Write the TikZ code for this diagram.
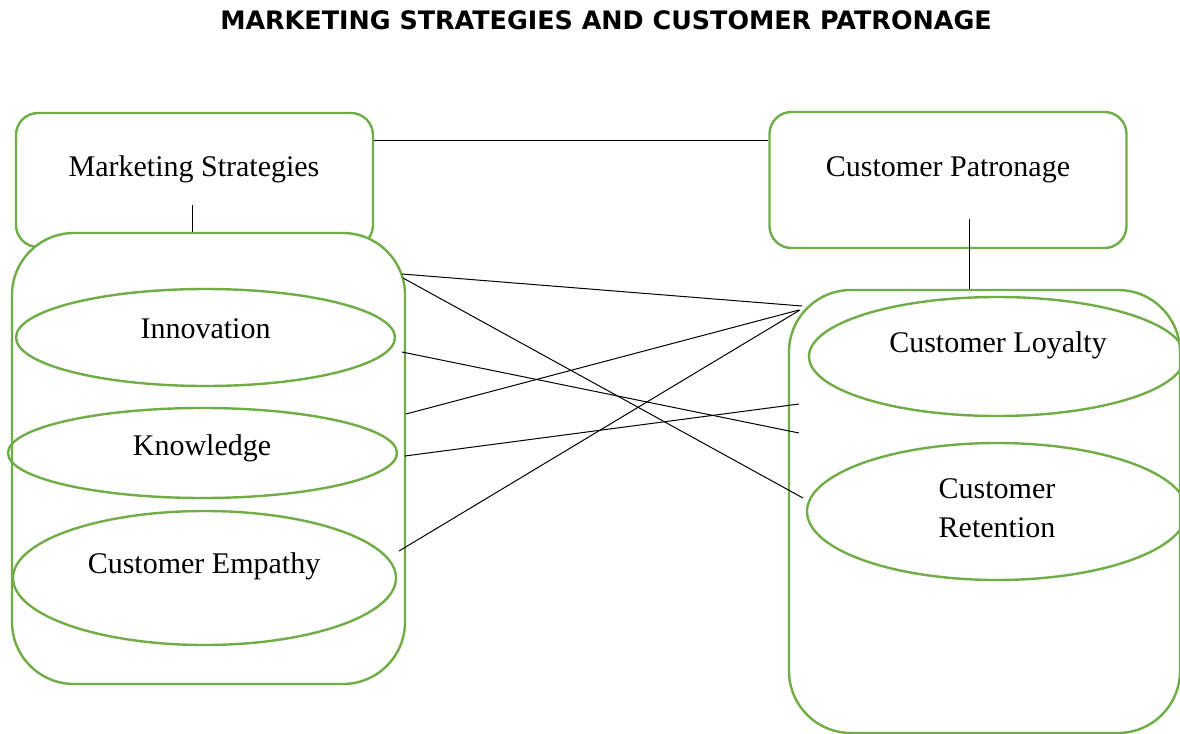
\documentclass[tikz,border=0pt]{standalone}
\usepackage{fontspec}
\setmainfont{Liberation Serif}
\newfontfamily\headfont{DejaVu Sans}
\usetikzlibrary{shapes.geometric}
\definecolor{leafgreen}{RGB}{112,173,71}

\begin{document}
\begin{tikzpicture}[x=0.5pt, y=-0.5pt,
    box/.style={draw=leafgreen, line width=1.2pt, rounded corners=11pt, fill=white, inner sep=0pt, minimum width=178.5pt},
    group/.style={draw=leafgreen, line width=1.2pt, rounded corners=31pt, fill=white, inner sep=0pt},
    oval/.style={ellipse, draw=leafgreen, line width=1.2pt, inner sep=0pt},
    lbl/.style={font=\fontsize{15}{19.5}\selectfont, align=center, inner sep=0pt, anchor=base},
    link/.style={black, line width=0.5pt}]
    \useasboundingbox (0,0) rectangle (1180,734);

    % Title
    \node[font=\headfont\bfseries\fontsize{12.7}{16}\selectfont] (title) at (606,20)
        {MARKETING STRATEGIES AND CUSTOMER PATRONAGE};

    % Top boxes
    \node[box, minimum height=67pt] (ms) at (194.5,180) {};
    \node[box, minimum height=68pt] (cp) at (948,180) {};
    \node[lbl] (mstext) at (194,176) {Marketing Strategies};
    \node[lbl] (cptext) at (948,176) {Customer Patronage};

    % Containers for the variables
    \node[group, minimum width=196.5pt, minimum height=225.5pt] (leftgrp) at (208.5,458.5) {};
    \node[group, minimum width=195.5pt, minimum height=221.5pt] (rightgrp) at (984.5,511.5) {};

    % Independent variables
    \node[oval, minimum width=189.5pt, minimum height=48.5pt] (inno) at (205.5,337.5) {};
    \node[oval, minimum width=194.5pt, minimum height=45pt] (know) at (202.5,453) {};
    \node[oval, minimum width=191.5pt, minimum height=67pt] (empa) at (204.5,578) {};
    \node[lbl] (innotext) at (205.5,338) {Innovation};
    \node[lbl] (knowtext) at (202,455) {Knowledge};
    \node[lbl] (empatext) at (204,573) {Customer Empathy};

    % Dependent variables
    \node[oval, minimum width=188pt, minimum height=59.5pt] (loyal) at (997,356.5) {};
    \node[oval, minimum width=190pt, minimum height=68.5pt] (reten) at (997,511.5) {};
    \node[lbl] (loyaltext) at (998,352) {Customer Loyalty};
    \node[lbl] (retentext) at (997,537) {Customer\\Retention};

    % Links between the headings
    \draw[link] ([yshift=20pt]ms.east) -- ([yshift=20pt]cp.west);
    \coordinate (mfoot) at ([xshift=-1.2pt, yshift=-12.5pt]ms.center);
    \draw[link] (mfoot) -- (mfoot |- leftgrp.north);
    \coordinate (cfoot) at ([xshift=10.5pt, yshift=-19.5pt]cp.center);
    \draw[link] (cfoot) -- (cfoot |- rightgrp.north);

    % Cross links
    \coordinate (a1) at (402,274);
    \coordinate (a2) at (403,278);
    \coordinate (a3) at (402,352);
    \coordinate (a4) at (406,414);
    \coordinate (a5) at (405,456);
    \coordinate (a6) at (399,551);
    \coordinate (b1) at (802,306);
    \coordinate (b2) at (803,498);
    \coordinate (b3) at (799,433);
    \coordinate (b4) at (799,310);
    \coordinate (b5) at (799,404);
    \coordinate (b6) at (800,310);
    \foreach \i in {1,...,6}
        \draw[link] (a\i) -- (b\i);
\end{tikzpicture}
\end{document}
